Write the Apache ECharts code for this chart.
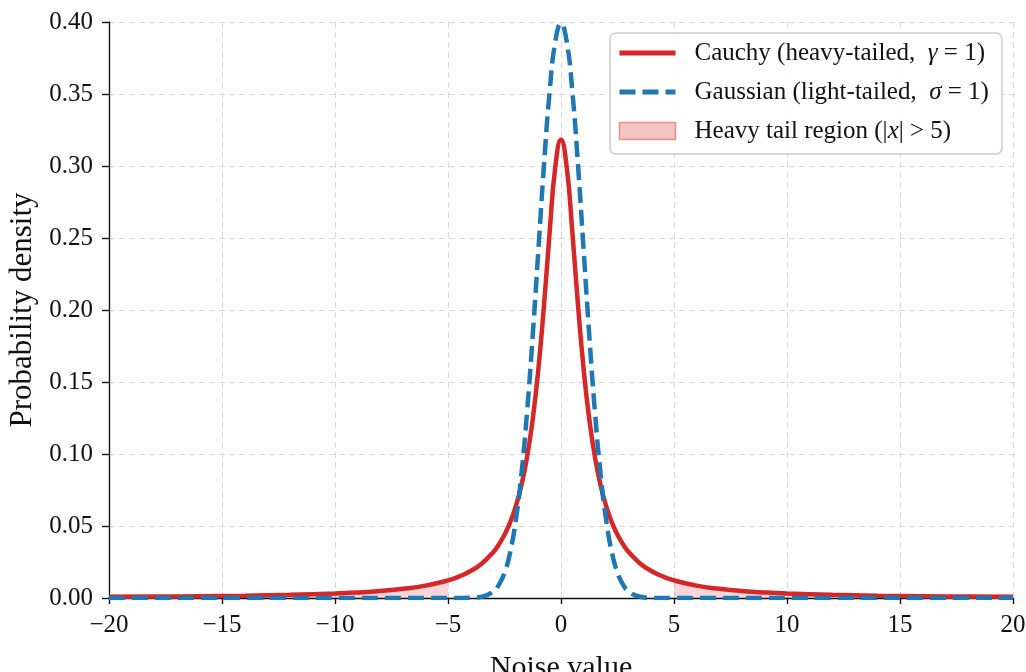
<!DOCTYPE html>
<html>
<head>
<meta charset="utf-8">
<script src="https://cdn.jsdelivr.net/npm/echarts@6/dist/echarts.min.js"></script>
<style>
  html, body { margin: 0; padding: 0; background: #fff; }
  #chart { width: 1026px; height: 672px; }
</style>
</head>
<body>
<div id="chart"></div>
<script>
// Sample positions along the noise axis
const xs = [-20, -18, -16, -14, -12, -10, -9, -8, -7, -6, -5, -4.5, -4, -3.5, -3, -2.75, -2.5, -2.25, -2, -1.75, -1.5, -1.25, -1, -0.75, -0.5, -0.25,
  0, 0.25, 0.5, 0.75, 1, 1.25, 1.5, 1.75, 2, 2.25, 2.5, 2.75, 3, 3.5, 4, 4.5, 5, 6, 7, 8, 9, 10, 12, 14, 16, 18, 20];

// Cauchy density (gamma = 1)
const cauchy = [0.00079, 0.00098, 0.00124, 0.00162, 0.00220, 0.00315, 0.00388, 0.00490, 0.00637, 0.00860, 0.01224, 0.01498, 0.01872, 0.02402, 0.03183, 0.03718, 0.04390, 0.05250, 0.06366, 0.07835, 0.09794, 0.12422, 0.15915, 0.20372, 0.25465, 0.29959,
  0.31831, 0.29959, 0.25465, 0.20372, 0.15915, 0.12422, 0.09794, 0.07835, 0.06366, 0.05250, 0.04390, 0.03718, 0.03183, 0.02402, 0.01872, 0.01498, 0.01224, 0.00860, 0.00637, 0.00490, 0.00388, 0.00315, 0.00220, 0.00162, 0.00124, 0.00098, 0.00079];

// Gaussian density (sigma = 1)
const gauss = [0, 0, 0, 0, 0, 0, 0, 0, 0, 0, 0.000002, 0.000016, 0.000134, 0.000873, 0.004432, 0.009094, 0.017528, 0.031740, 0.053991, 0.086277, 0.129518, 0.182649, 0.241971, 0.301137, 0.352065, 0.386668,
  0.398942, 0.386668, 0.352065, 0.301137, 0.241971, 0.182649, 0.129518, 0.086277, 0.053991, 0.031740, 0.017528, 0.009094, 0.004432, 0.000873, 0.000134, 0.000016, 0.000002, 0, 0, 0, 0, 0, 0, 0, 0, 0, 0];

const tailCut = 5;

const NAME_C = 'Cauchy (heavy-tailed, gamma=1)';
const NAME_G = 'Gaussian (light-tailed, sigma=1)';
const NAME_T = 'Heavy tail region (|x|>5)';

const RED = '#d62728';
const BLUE = '#1f77b4';
const TAIL_FILL = 'rgba(214,39,40,0.27)';
const FONT = '"Liberation Serif", "Times New Roman", serif';

const cauchyPts = xs.map((x, i) => [x, cauchy[i]]);
const gaussPts = xs.map((x, i) => [x, gauss[i]]);
const leftTail = cauchyPts.filter(p => p[0] <= -tailCut);
const rightTail = cauchyPts.filter(p => p[0] >= tailCut);

const fmtX = v => (v < 0 ? '\u2212' + Math.abs(v) : String(v));

const chart = echarts.init(document.getElementById('chart'), null, { renderer: 'canvas' });

const tailSeries = data => ({
  name: NAME_T,
  type: 'line',
  data: data,
  smooth: true,
  symbol: 'none',
  z: 1,
  lineStyle: { width: 0 },
  itemStyle: { color: TAIL_FILL },
  areaStyle: { color: TAIL_FILL, origin: 'start' },
  silent: true
});

chart.setOption({
  animation: false,
  textStyle: { fontFamily: FONT },
  grid: { left: 109, right: 13, top: 22, bottom: 74, containLabel: false, outerBoundsMode: 'none' },
  legend: {
    left: 610,
    top: 33,
    orient: 'vertical',
    padding: [6, 13, 9, 7],
    itemGap: 11,
    itemWidth: 56,
    itemHeight: 17,
    backgroundColor: 'rgba(255,255,255,0.85)',
    borderColor: '#cccccc',
    borderWidth: 1.5,
    borderRadius: 6,
    data: [
      { name: NAME_C, itemStyle: { opacity: 0 }, lineStyle: { width: 5 } },
      { name: NAME_G, itemStyle: { opacity: 0 }, lineStyle: { width: 5 } },
      { name: NAME_T, icon: 'rect', itemStyle: { color: TAIL_FILL, borderColor: 'rgba(214,39,40,0.45)', borderWidth: 1.5 } }
    ],
    formatter: name => {
      if (name === NAME_C) return 'Cauchy (heavy-tailed,  {i|\u03b3} = 1)';
      if (name === NAME_G) return 'Gaussian (light-tailed,  {i|\u03c3} = 1)';
      return 'Heavy tail region (|{i|x}| > 5)';
    },
    textStyle: {
      fontFamily: FONT,
      fontSize: 25,
      color: '#111',
      lineHeight: 28,
      padding: [0, 0, 0, 14],
      rich: {
        i: { fontFamily: FONT, fontStyle: 'italic', fontSize: 25, color: '#111' }
      }
    }
  },
  xAxis: {
    type: 'value',
    min: -20,
    max: 20,
    interval: 5,
    name: 'Noise value',
    nameLocation: 'middle',
    nameGap: 55,
    nameTextStyle: { fontFamily: FONT, fontSize: 30, color: '#111' },
    axisLine: { show: true, onZero: false, lineStyle: { color: '#111', width: 1.4 } },
    axisTick: { show: true, length: 6, lineStyle: { color: '#111', width: 1.4 } },
    axisLabel: { formatter: fmtX, fontFamily: FONT, fontSize: 25, color: '#111', margin: 15 },
    splitLine: { show: true, lineStyle: { color: '#d9d9d9', type: [6, 4], width: 1 } }
  },
  yAxis: {
    type: 'value',
    min: 0,
    max: 0.4,
    interval: 0.05,
    name: 'Probability density',
    nameLocation: 'middle',
    nameGap: 68,
    nameTextStyle: { fontFamily: FONT, fontSize: 31, color: '#111' },
    axisLine: { show: true, onZero: false, lineStyle: { color: '#111', width: 1.4 } },
    axisTick: { show: true, length: 7, lineStyle: { color: '#111', width: 1.4 } },
    axisLabel: { formatter: v => v.toFixed(2), fontFamily: FONT, fontSize: 25, color: '#111', margin: 16 },
    splitLine: { show: true, lineStyle: { color: '#d9d9d9', type: [6, 4], width: 1 } }
  },
  series: [
    {
      name: NAME_C,
      type: 'line',
      data: cauchyPts,
      smooth: true,
      symbol: 'none',
      z: 3,
      itemStyle: { color: RED },
      lineStyle: { color: RED, width: 4.5 }
    },
    {
      name: NAME_G,
      type: 'line',
      data: gaussPts,
      smooth: true,
      symbol: 'none',
      z: 4,
      itemStyle: { color: BLUE },
      lineStyle: { color: BLUE, width: 4.5, type: [16, 7] }
    },
    tailSeries(leftTail),
    tailSeries(rightTail)
  ]
});
</script>
</body>
</html>
